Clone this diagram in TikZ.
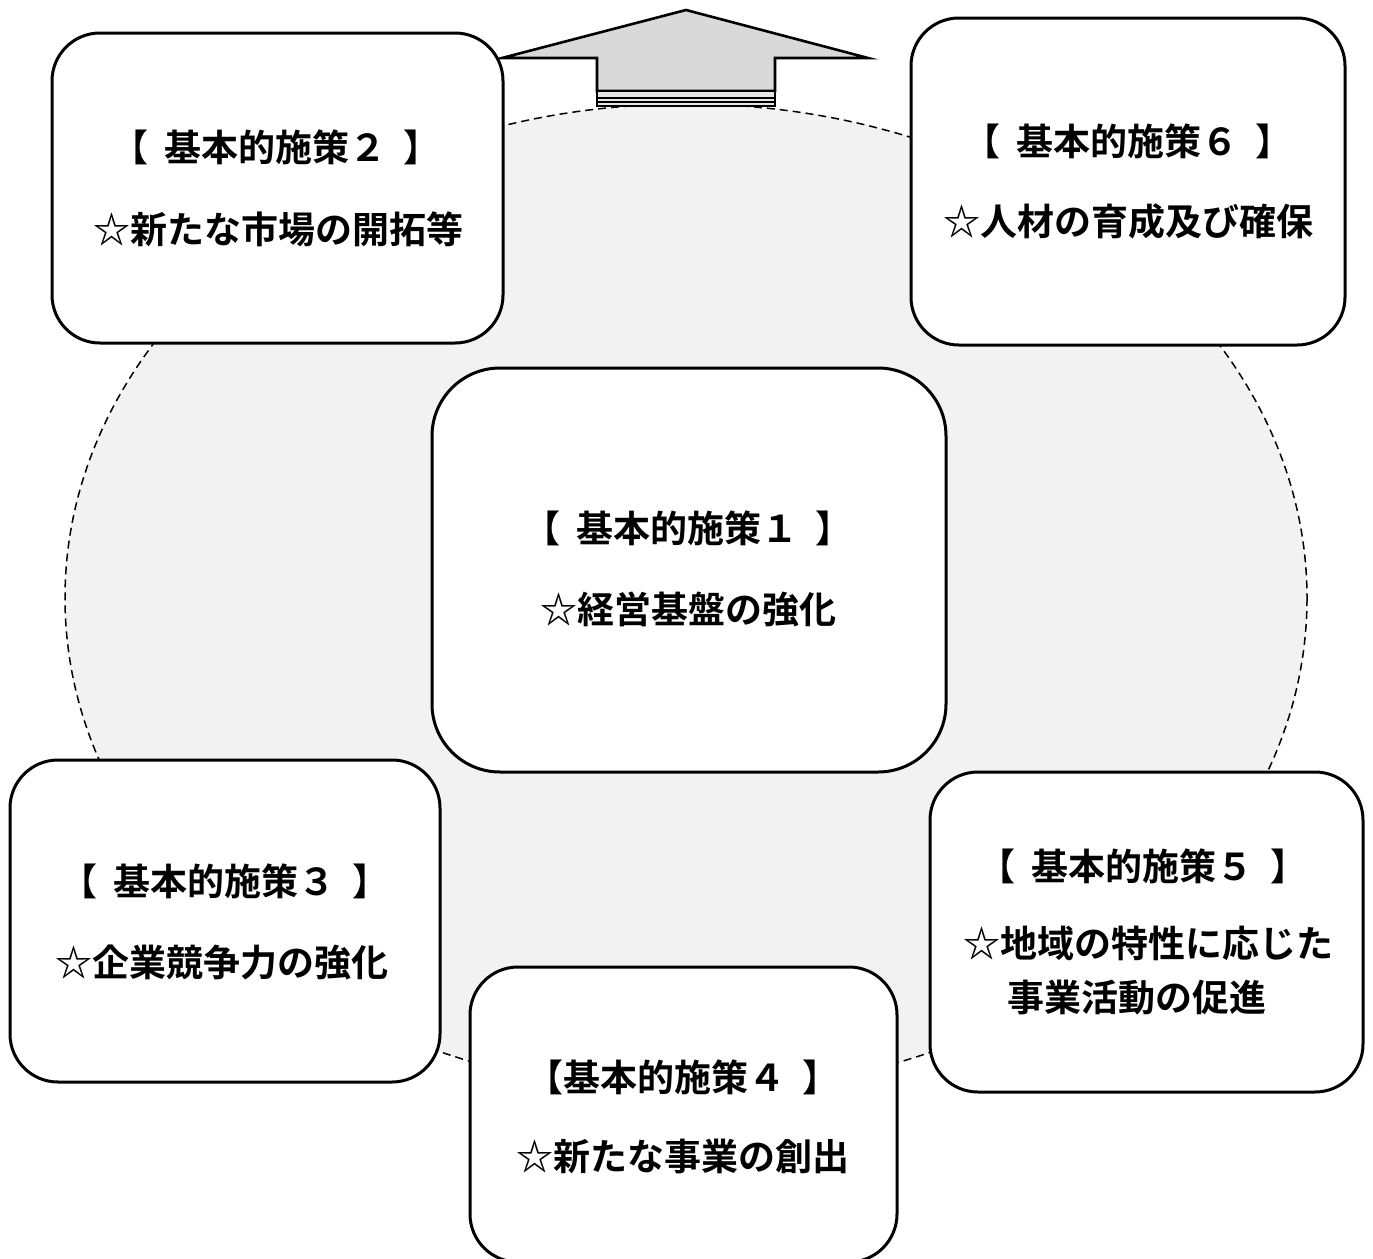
\documentclass[tikz,border=0pt]{standalone}
\usepackage{fontspec}
\newfontfamily\jp{Noto Sans CJK JP}[BoldFont={* Bold}]
\newcommand{\gapsp}{\hspace{0.45em}}
\begin{document}
\begin{tikzpicture}[x=1pt,y=-1pt,
  box/.style={draw=black,line width=3pt,fill=white,rounded corners=48pt},
  txt/.style={font=\jp\bfseries\fontsize{37}{42}\selectfont,inner sep=0pt,anchor=center},
  ring/.style={draw=black,line width=1.5pt,dash pattern=on 8pt off 5pt,fill=black!5}]
\useasboundingbox (0,0) rectangle (1373,1258);
% dashed circle
\path[ring] (686,598) ellipse [x radius=621, y radius=494];
% arrow
\path[draw=black,line width=2.6pt,fill=black!15,line join=miter]
  (686,10) -- (868,58) -- (775,58) -- (775,91) -- (597,91) -- (597,58) -- (502,58) -- cycle;
\path[draw=black,line width=1.8pt,fill=black!10] (597,91) rectangle (775,106);
\draw[line width=1.4pt] (597,98) -- (775,98);
\draw[line width=1.4pt] (597,102) -- (775,102);
% boxes
\path[box] (52,33) rectangle (503,343) coordinate (b2);
\path[box] (911,18) rectangle (1345,345) coordinate (b6);
\path[box,rounded corners=68pt] (432,368) rectangle (946,772) coordinate (b1);
\path[box] (10,760) rectangle (440,1082) coordinate (b3);
\path[box] (930,772) rectangle (1363,1092) coordinate (b5);
\path[box] (470,967) rectangle (897,1262) coordinate (b4);
% texts
\node[txt] (t2a) at (276,147) {【\gapsp 基本的施策２\gapsp 】};
\node[txt] (t2b) at (278,229) {☆新たな市場の開拓等};
\node[txt] (t6a) at (1128,141) {【\gapsp 基本的施策６\gapsp 】};
\node[txt] (t6b) at (1128,221) {☆人材の育成及び確保};
\node[txt] (t1a) at (688,528) {【\gapsp 基本的施策１\gapsp 】};
\node[txt] (t1b) at (688,609) {☆経営基盤の強化};
\node[txt] (t3a) at (225,881) {【\gapsp 基本的施策３\gapsp 】};
\node[txt] (t3b) at (222,962) {☆企業競争力の強化};
\node[txt] (t5a) at (1143,866) {【\gapsp 基本的施策５\gapsp 】};
\node[txt] (t5b) at (1148,943) {☆地域の特性に応じた};
\node[txt] (t5c) at (1137,998) {事業活動の促進};
\node[txt] (t4a) at (683,1077) {【基本的施策４\gapsp 】};
\node[txt] (t4b) at (683,1156) {☆新たな事業の創出};
\end{tikzpicture}
\end{document}
